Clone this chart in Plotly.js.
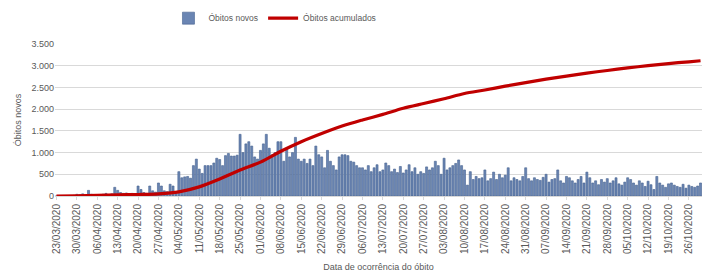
<!DOCTYPE html>
<html>
<head>
<meta charset="utf-8">
<script src="https://cdn.plot.ly/plotly-3.0.1.min.js"></script>
<style>html,body{margin:0;padding:0;background:#fff;}#chart{width:702px;height:272px;}</style>
</head>
<body>
<div id="chart"></div>
<script>
// Daily new deaths, from 23/03/2020 to 30/10/2020 (one value per day)
const startDate = '2020-03-23';
const dailyDeaths = [
  0, 2, 5, 3, 8, 10, 15,
  40, 30, 50, 20, 130, 40, 30,
  20, 30, 40, 60, 30, 50, 200,
  130, 80, 60, 70, 50, 60, 40,
  230, 150, 80, 60, 230, 120, 90,
  300, 230, 120, 100, 270, 230, 100,
  560, 420, 440, 450, 410, 700, 850,
  620, 520, 700, 700, 700, 760, 870,
  840, 700, 930, 980, 920, 920, 940,
  1420, 1000, 1200, 1250, 1150, 900, 850,
  1050, 1200, 1420, 1100, 950, 1000, 1250,
  1250, 800, 1100, 900, 1000, 1350, 850,
  800, 850, 750, 850, 700, 1150, 950,
  900, 650, 1050, 800, 700, 600, 900,
  950, 950, 930, 800, 780, 700, 650,
  650, 600, 700, 560, 650, 720, 560,
  600, 760, 700, 560, 620, 540, 680,
  530, 600, 720, 560, 650, 500, 560,
  520, 670, 600, 650, 800, 700, 500,
  870, 600, 650, 700, 750, 830, 700,
  600, 250, 560, 380, 450, 400, 420,
  600, 350, 400, 550, 380, 500, 420,
  480, 650, 350, 420, 380, 350, 450,
  650, 400, 350, 420, 380, 360, 430,
  500, 320, 380, 400, 600, 350, 300,
  450, 420, 350, 300, 380, 450, 300,
  550, 420, 300, 350, 260, 380, 320,
  400, 300, 350, 420, 280, 250, 320,
  420, 380, 300, 250, 350, 300, 220,
  340, 260, 150, 450, 300, 250, 200,
  280, 300, 250, 220, 200, 270, 180,
  250, 220, 200, 230, 300
];

// Cumulative deaths line, read at weekly points
const cumDates = ['2020-03-23','2020-03-30','2020-04-06','2020-04-13','2020-04-20','2020-04-27',
  '2020-05-04','2020-05-11','2020-05-18','2020-05-25','2020-06-01','2020-06-08','2020-06-15',
  '2020-06-22','2020-06-29','2020-07-06','2020-07-13','2020-07-20','2020-07-27','2020-08-03',
  '2020-08-10','2020-08-17','2020-08-24','2020-08-31','2020-09-07','2020-09-14','2020-09-21',
  '2020-09-28','2020-10-05','2020-10-12','2020-10-19','2020-10-26','2020-10-30'];
const cumDeaths = [0, 5, 15, 25, 35, 50,
  95, 210, 390, 600, 780, 1030, 1250,
  1440, 1610, 1750, 1880, 2020, 2130, 2240,
  2360, 2440, 2530, 2610, 2690, 2760, 2830,
  2890, 2950, 3000, 3050, 3090, 3115];

const seriesNames = ['Óbitos novos', 'Óbitos acumulados'];
const yTitle = 'Óbitos novos';
const xTitle = 'Data de ocorrência do óbito';

// Build day dates for the bars
const dailyDates = dailyDeaths.map((_, i) => {
  const d = new Date(startDate + 'T00:00:00Z');
  d.setUTCDate(d.getUTCDate() + i);
  return d.toISOString().slice(0, 10);
});

const FONT = 'Liberation Sans Narrow, Liberation Sans, Arial, sans-serif';

const traces = [
  {
    type: 'bar',
    name: seriesNames[0],
    x: dailyDates,
    y: dailyDeaths,
    marker: {color: '#6a85b3', line: {color: '#45628f', width: 0.6}},
  },
  {
    type: 'scatter',
    mode: 'lines',
    name: seriesNames[1],
    x: cumDates,
    y: cumDeaths,
    line: {color: '#c00000', width: 3.2, shape: 'spline', smoothing: 0.8},
  }
];

const layout = {
  width: 702, height: 272,
  margin: {l: 55, r: 0, t: 44, b: 76},
  paper_bgcolor: '#fff', plot_bgcolor: '#fff',
  separators: ',.',
  bargap: 0.3,
  font: {family: FONT, size: 9, color: '#595959'},
  showlegend: true,
  legend: {orientation: 'h', x: 0.34, xanchor: 'center', y: 1.17, yanchor: 'middle',
    font: {family: FONT, size: 8.5, color: '#595959'}, itemwidth: 30, traceorder: 'normal'},
  xaxis: {
    type: 'date',
    range: ['2020-03-22 12:00', '2020-10-30 12:00'],
    tick0: '2020-03-23', dtick: 7 * 86400000,
    tickformat: '%d/%m/%Y', tickangle: -90,
    tickfont: {family: FONT, size: 10, color: '#595959'},
    showgrid: false, showline: true, linecolor: '#d9d9d9', linewidth: 1,
    ticks: 'outside', ticklen: 3, tickcolor: '#d9d9d9',
    title: {text: xTitle, font: {family: FONT, size: 9, color: '#595959'}, standoff: 11},
  },
  yaxis: {
    range: [0, 3500], dtick: 500, tickformat: ',d',
    tickfont: {family: FONT, size: 9, color: '#595959'},
    showgrid: true, gridcolor: '#d9d9d9', gridwidth: 1,
    zeroline: false, showline: false,
    title: {text: yTitle, font: {family: FONT, size: 9, color: '#595959'}, standoff: 8},
  },
};

Plotly.newPlot('chart', traces, layout, {displayModeBar: false, staticPlot: true});
</script>
</body>
</html>
